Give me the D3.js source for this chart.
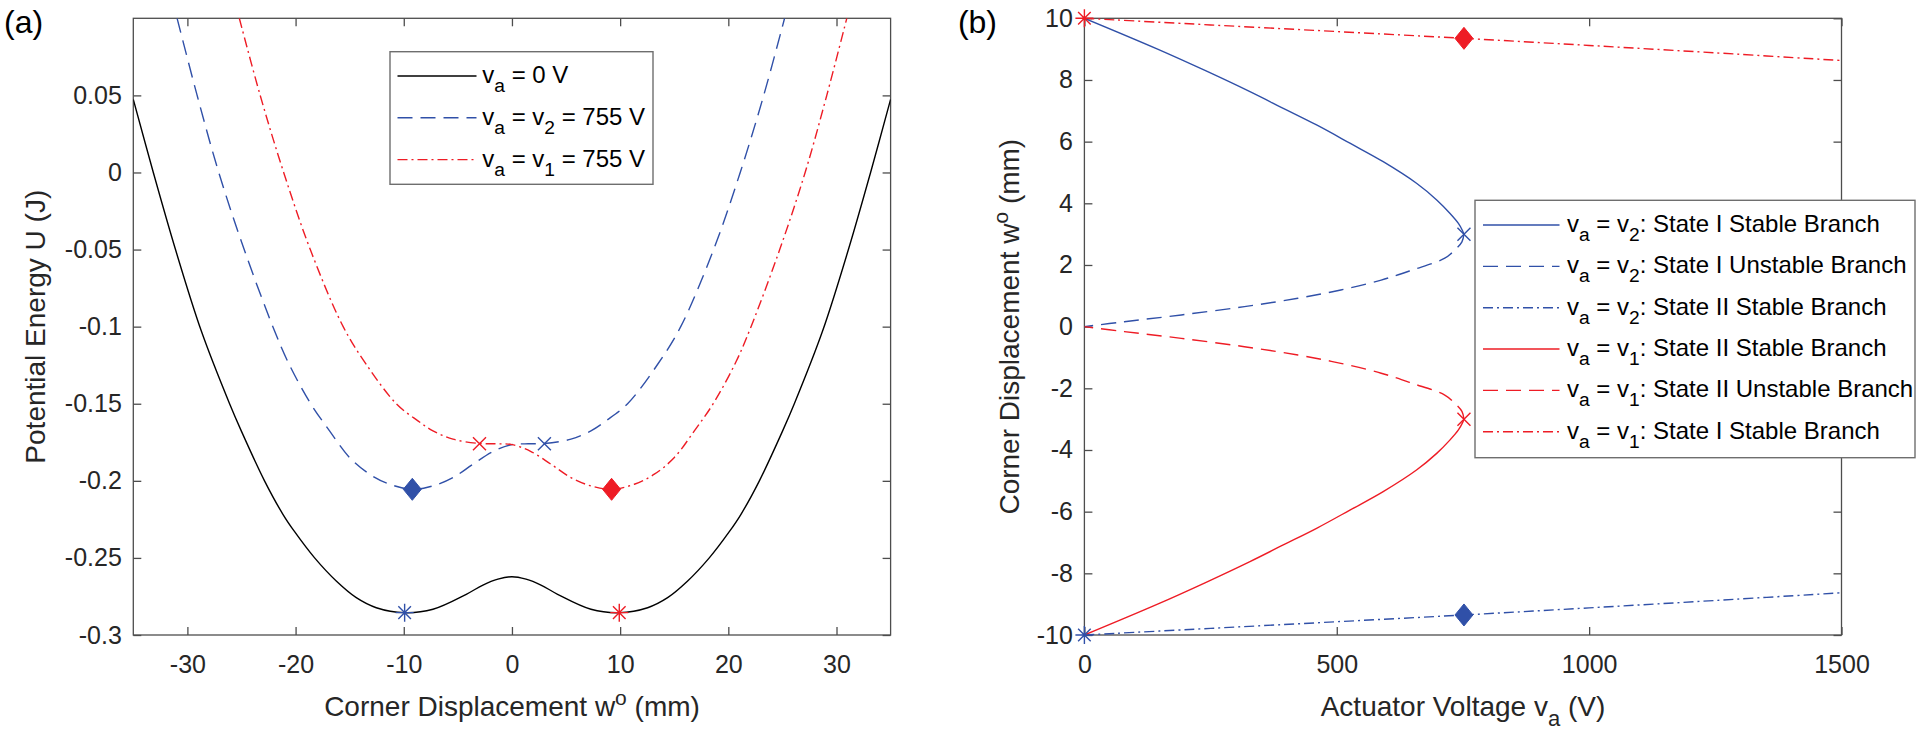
<!DOCTYPE html>
<html><head><meta charset="utf-8">
<script src="https://cdn.jsdelivr.net/npm/d3@7"></script>
<style>
html,body{margin:0;padding:0;background:#fff;}
svg{display:block;font-family:"Liberation Sans",Arial,Helvetica,sans-serif;}
</style></head>
<body>
<svg id="chart" width="1921" height="730"></svg>
<script>
// ---------- Panel (a) data: potential energy U (J) vs corner displacement w (mm)
const wBlack = [-35,-33.15,-31.1,-28.72,-26.1,-25.02,-22.87,-21.17,-20.09,-18.24,-16.24,-14.39,-12.54,-9.92,-7.3,-4.22,-2.68,-1.3,0,1.3,2.68,4.22,7.3,9.92,12.54,14.39,16.24,18.24,20.09,21.17,22.87,25.02,26.1,28.72,31.1,33.15,35];
const uBlack = [0.0474,0,-0.05,-0.1027,-0.15,-0.1676,-0.2,-0.2217,-0.233,-0.25,-0.265,-0.2758,-0.2823,-0.2855,-0.2833,-0.2736,-0.2676,-0.2638,-0.2622,-0.2638,-0.2676,-0.2736,-0.2833,-0.2855,-0.2823,-0.2758,-0.265,-0.25,-0.233,-0.2217,-0.2,-0.1676,-0.15,-0.1027,-0.05,0,0.0474];

const wBlue = [-30.95,-29.1,-27.1,-24.75,-22.1,-20.71,-18.6,-16.86,-15.01,-13.16,-11.31,-9.21,-7.3,-5.45,-3.6,-1.76,0,1.5,3.0,5.45,7.3,8.69,10.69,13.47,15.6,18.64,21.1,23.27,25.2];
const uBlue = [0.1,0.05,0,-0.05,-0.1,-0.1228,-0.15,-0.1676,-0.1849,-0.1957,-0.2022,-0.2055,-0.2033,-0.1979,-0.1892,-0.181,-0.1765,-0.176,-0.1758,-0.173,-0.1676,-0.1611,-0.15,-0.1244,-0.1,-0.05,0,0.05,0.1];

const wRed = [-25.2,-23.27,-21.1,-18.64,-15.6,-13.47,-10.69,-8.69,-7.3,-5.45,-3.0,-1.5,0,1.76,3.6,5.45,7.3,9.21,11.31,13.16,15.01,16.86,18.6,20.71,22.1,24.75,27.1,29.1,30.95];
const uRed = [0.1,0.05,0,-0.05,-0.1,-0.1244,-0.15,-0.1611,-0.1676,-0.173,-0.1758,-0.176,-0.1765,-0.181,-0.1892,-0.1979,-0.2033,-0.2055,-0.2022,-0.1957,-0.1849,-0.1676,-0.15,-0.1228,-0.1,-0.05,0,0.05,0.1];

// markers panel (a)
const aAsterisk = [{w:-9.92,u:-0.2855,c:"blue"},{w:9.92,u:-0.2855,c:"red"}];
const aCross = [{w:-3.0,u:-0.176,c:"red"},{w:3.0,u:-0.176,c:"blue"}];
const aDiamond = [{w:-9.21,u:-0.2055,c:"blue"},{w:9.21,u:-0.2055,c:"red"}];

// ---------- Panel (b) data: corner displacement w (mm) vs actuator voltage (V)
const vV2Stable = [0,145,240,328,394,460,526,592,658,698,724,741,749,752];
const wV2Stable = [10,9,8.3,7.62,7.08,6.54,5.95,5.35,4.65,4.11,3.68,3.35,3.12,3.0];
const vV2Unstable = [752,748,736,714,650,588,508,423,317,192,79,0];
const wV2Unstable = [3.0,2.75,2.52,2.22,1.84,1.51,1.19,0.92,0.65,0.38,0.16,0];
const vV2State2 = [0,250,500,752,1000,1250,1500];
const wV2State2 = [-10,-9.785,-9.57,-9.35,-9.12,-8.88,-8.63];

const vV1Stable = [0,145,240,328,394,460,526,592,658,698,724,741,749,752];
const wV1Stable = [-10,-9,-8.3,-7.62,-7.08,-6.54,-5.95,-5.35,-4.65,-4.11,-3.68,-3.35,-3.12,-3.0];
const vV1Unstable = [752,748,736,714,650,588,508,423,317,192,79,0];
const wV1Unstable = [-3.0,-2.75,-2.52,-2.22,-1.84,-1.51,-1.19,-0.92,-0.65,-0.38,-0.16,0];
const vV1State1 = [0,250,500,752,1000,1250,1500];
const wV1State1 = [10,9.785,9.57,9.35,9.12,8.88,8.63];

const bAsterisk = [{v:0,w:10,c:"red"},{v:0,w:-10,c:"blue"}];
const bCross = [{v:752,w:3,c:"blue"},{v:752,w:-3,c:"red"}];
const bDiamond = [{v:752,w:9.35,c:"red"},{v:752,w:-9.35,c:"blue"}];

// ticks
const aXTicks = [-30,-20,-10,0,10,20,30];
const aYTicks = [-0.3,-0.25,-0.2,-0.15,-0.1,-0.05,0,0.05];
const bXTicks = [0,500,1000,1500];
const bYTicks = [-10,-8,-6,-4,-2,0,2,4,6,8,10];

const legendA = [
  {mid:" = 0 V", sub2:null, tail:"", color:"black", dash:null},
  {mid:" = v", sub2:"2", tail:" = 755 V", color:"blue", dash:"dashed"},
  {mid:" = v", sub2:"1", tail:" = 755 V", color:"red", dash:"dashdot"}
];
const legendB = [
  {sub2:"2", tail:": State I Stable Branch", color:"blue", dash:null},
  {sub2:"2", tail:": State I Unstable Branch", color:"blue", dash:"dashed"},
  {sub2:"2", tail:": State II Stable Branch", color:"blue", dash:"dashdot"},
  {sub2:"1", tail:": State II Stable Branch", color:"red", dash:null},
  {sub2:"1", tail:": State II Unstable Branch", color:"red", dash:"dashed"},
  {sub2:"1", tail:": State I Stable Branch", color:"red", dash:"dashdot"}
];

// ---------- styling
const COLORS = {black:"#000000", blue:"#3050a8", red:"#ee1c25"};
const DASH = {dashed:"15,8", dashdot:"10,4,2,4"};
const AX = "#4d4d4d", TXT = "#262626";
const LW = 1.4;

const svg = d3.select("#chart");
const yTop = 18.3, yBot = 635;

const xA = d3.scaleLinear().domain([-35,35]).range([133.3,890.6]);
const yA = d3.scaleLinear().domain([-0.3,0.1]).range([yBot,yTop]);
const xB = d3.scaleLinear().domain([0,1500]).range([1084.4,1841.5]);
const yB = d3.scaleLinear().domain([-10,10]).range([yBot,yTop]);

const defs = svg.append("defs");
function clip(id,x,y){
  defs.append("clipPath").attr("id",id).append("rect")
    .attr("x",x.range()[0]).attr("y",y.range()[1])
    .attr("width",x.range()[1]-x.range()[0]).attr("height",y.range()[0]-y.range()[1]);
}
clip("clipA",xA,yA); clip("clipB",xB,yB);

function frame(x,y,xt,yt,fmt){
  const g = svg.append("g");
  g.append("g").attr("transform",`translate(0,${yBot})`)
    .call(d3.axisBottom(x).tickValues(xt).tickSize(-8).tickPadding(20).tickFormat(fmt));
  g.append("g").attr("transform",`translate(0,${yTop})`)
    .call(d3.axisTop(x).tickValues(xt).tickSize(-8).tickFormat(""));
  g.append("g").attr("transform",`translate(${x.range()[0]},0)`)
    .call(d3.axisLeft(y).tickValues(yt).tickSize(-8).tickPadding(11.5).tickFormat(fmt));
  g.append("g").attr("transform",`translate(${x.range()[1]},0)`)
    .call(d3.axisRight(y).tickValues(yt).tickSize(-8).tickFormat(""));
  g.selectAll(".domain").remove();
  g.selectAll(".tick line").attr("stroke",AX).attr("stroke-width",1.3);
  g.selectAll(".tick text").attr("fill",TXT).attr("font-size",25)
    .attr("font-family","'Liberation Sans',Arial,Helvetica,sans-serif");
  g.append("rect").attr("x",x.range()[0]).attr("y",yTop)
    .attr("width",x.range()[1]-x.range()[0]).attr("height",yBot-yTop)
    .attr("fill","none").attr("stroke",AX).attr("stroke-width",1.3);
}
const fmt = d => String(d);
frame(xA,yA,aXTicks,aYTicks,fmt);
frame(xB,yB,bXTicks,bYTicks,fmt);

function drawLine(clipId, xs, ys, xScale, yScale, color, dash){
  const pts = xs.map((v,i)=>[xScale(v), yScale(ys[i])]);
  svg.append("path").attr("clip-path",`url(#${clipId})`)
    .attr("d", d3.line().curve(d3.curveCatmullRom.alpha(0.5))(pts))
    .attr("fill","none").attr("stroke",COLORS[color]).attr("stroke-width",LW)
    .attr("stroke-dasharray", dash ? DASH[dash] : null);
}
// panel (a) curves
drawLine("clipA", wBlack, uBlack, xA, yA, "black", null);
drawLine("clipA", wBlue, uBlue, xA, yA, "blue", "dashed");
drawLine("clipA", wRed, uRed, xA, yA, "red", "dashdot");
// panel (b) curves
drawLine("clipB", vV2Stable, wV2Stable, xB, yB, "blue", null);
drawLine("clipB", vV2Unstable, wV2Unstable, xB, yB, "blue", "dashed");
drawLine("clipB", vV2State2, wV2State2, xB, yB, "blue", "dashdot");
drawLine("clipB", vV1Stable, wV1Stable, xB, yB, "red", null);
drawLine("clipB", vV1Unstable, wV1Unstable, xB, yB, "red", "dashed");
drawLine("clipB", vV1State1, wV1State1, xB, yB, "red", "dashdot");

// markers
function asterisk(x,y,c){
  const r=9, d=r*0.7;
  svg.append("path").attr("d",`M${x-r},${y}L${x+r},${y}M${x},${y-r}L${x},${y+r}M${x-d},${y-d}L${x+d},${y+d}M${x-d},${y+d}L${x+d},${y-d}`)
    .attr("stroke",COLORS[c]).attr("stroke-width",1.4).attr("fill","none");
}
function cross(x,y,c){
  const r=6.5;
  svg.append("path").attr("d",`M${x-r},${y-r}L${x+r},${y+r}M${x-r},${y+r}L${x+r},${y-r}`)
    .attr("stroke",COLORS[c]).attr("stroke-width",1.4).attr("fill","none");
}
function diamond(x,y,c){
  svg.append("path").attr("d",`M${x},${y-11}L${x+9},${y}L${x},${y+11}L${x-9},${y}Z`)
    .attr("fill",COLORS[c]).attr("stroke",COLORS[c]).attr("stroke-width",1);
}
aAsterisk.forEach(d=>asterisk(xA(d.w),yA(d.u),d.c));
aCross.forEach(d=>cross(xA(d.w),yA(d.u),d.c));
aDiamond.forEach(d=>diamond(xA(d.w),yA(d.u),d.c));
bAsterisk.forEach(d=>asterisk(xB(d.v),yB(d.w),d.c));
bCross.forEach(d=>cross(xB(d.v),yB(d.w),d.c));
bDiamond.forEach(d=>diamond(xB(d.v),yB(d.w),d.c));

// legends
function legendText(g, x, y, parts, size){
  const t = g.append("text").attr("x",x).attr("y",y).attr("font-size",size).attr("fill","#000");
  let shift = 0;
  parts.forEach(p=>{
    const ts = t.append("tspan").text(p.t);
    if(p.sub){ ts.attr("font-size",size*0.8).attr("dy",9-shift); shift=9; }
    else { if(shift){ ts.attr("dy",-shift); shift=0; } }
  });
  return t;
}
function legendBox(x,y,w,h,rows,lineX0,lineX1,textX,rowY0,rowStep,rowParts){
  const g = svg.append("g");
  g.append("rect").attr("x",x).attr("y",y).attr("width",w).attr("height",h)
    .attr("fill","#fff").attr("stroke","#6e6e6e").attr("stroke-width",1.4);
  rows.forEach((r,i)=>{
    const yy = rowY0 + i*rowStep;
    g.append("line").attr("x1",lineX0).attr("x2",lineX1).attr("y1",yy).attr("y2",yy)
      .attr("stroke",COLORS[r.color]).attr("stroke-width",LW)
      .attr("stroke-dasharray", r.dash ? DASH[r.dash] : null);
    legendText(g, textX, yy+7, rowParts(r), 24);
  });
}
legendBox(390,51.7,263,132.6,legendA,397.5,476.5,482.3,76,41.8,
  r=>{ const p=[{t:"v"},{t:"a",sub:true},{t:r.mid}]; if(r.sub2){p.push({t:r.sub2,sub:true}); p.push({t:r.tail});} return p; });
legendBox(1475,200.3,440,257.4,legendB,1483,1559.5,1567,225,41.35,
  r=>[{t:"v"},{t:"a",sub:true},{t:" = v"},{t:r.sub2,sub:true},{t:r.tail}]);

// axis titles
function title(x,y,parts,rot){
  const t = svg.append("text").attr("font-size",28).attr("fill",TXT).attr("text-anchor","middle")
    .attr("transform",`translate(${x},${y})${rot?" rotate(-90)":""}`);
  let shift=0;
  parts.forEach(p=>{
    const ts=t.append("tspan").text(p.t);
    if(p.sup){ ts.attr("font-size",21).attr("dy",-11-shift); shift=-11; }
    else if(p.sub){ ts.attr("font-size",22).attr("dy",10-shift); shift=10; }
    else if(shift){ ts.attr("dy",-shift); shift=0; }
  });
}
const wTitle = [{t:"Corner Displacement w"},{t:"o",sup:true},{t:" (mm)"}];
title(512, 716, wTitle, false);
title(45, 326.7, [{t:"Potential Energy U (J)"}], true);
title(1463, 716, [{t:"Actuator Voltage v"},{t:"a",sub:true},{t:" (V)"}], false);
title(1018.5, 326.7, wTitle, true);

// panel labels
svg.append("text").attr("x",4).attr("y",33).attr("font-size",32).attr("fill","#000").text("(a)");
svg.append("text").attr("x",997).attr("y",33).attr("font-size",32).attr("fill","#000").attr("text-anchor","end").text("(b)");
</script>
</body></html>
